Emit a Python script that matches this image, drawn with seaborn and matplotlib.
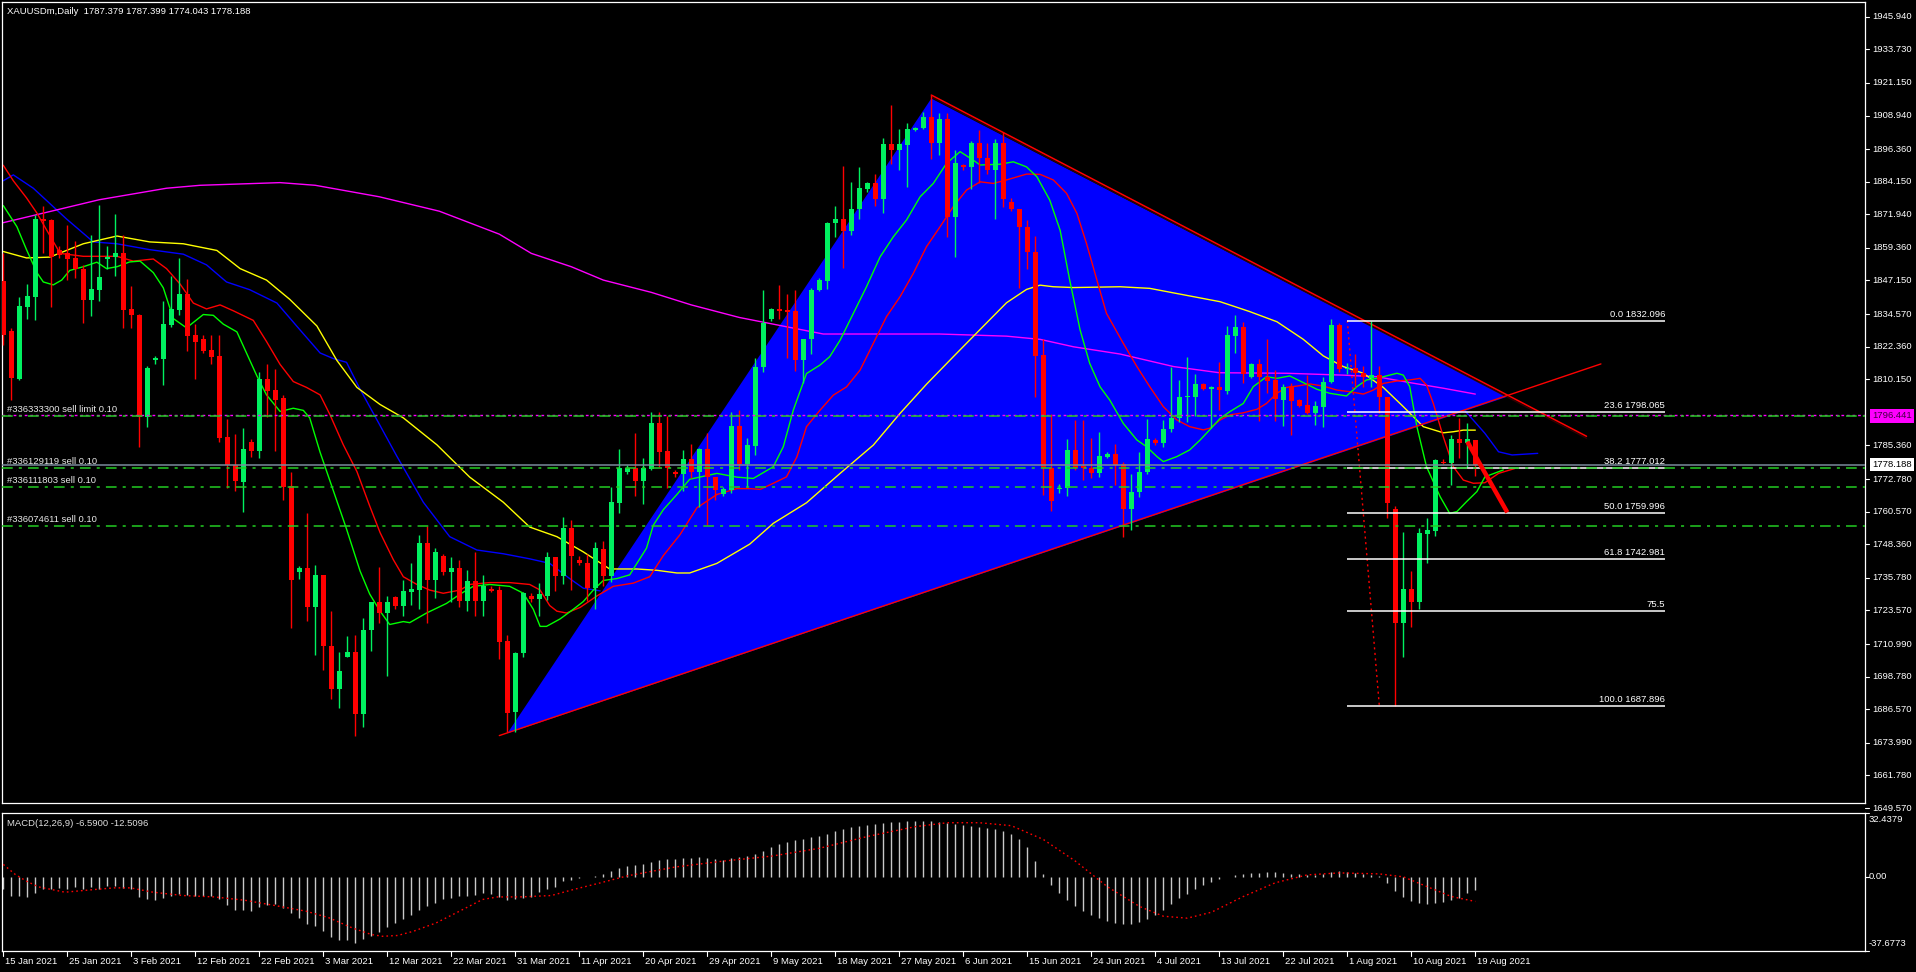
import numpy as np
import pandas as pd
import matplotlib
matplotlib.use("Agg")
import matplotlib.pyplot as plt
import matplotlib.transforms as mtransforms
import seaborn as sns

sns.set_theme(style="dark")
plt.rcParams['font.family'] = ['Liberation Sans', 'DejaVu Sans']

# ---------------- data ----------------
opens = [1847.0, 1828.2, 1810.4, 1837.2, 1841.0, 1870.2, 1869.8, 1858.4, 1857.3, 1855.6,
         1851.3, 1839.8, 1843.5, 1855.2, 1855.9, 1857.6, 1836.4, 1834.4, 1796.1, 1817.2,
         1817.9, 1830.4, 1836.1, 1842.1, 1826.6, 1825.2, 1821.0, 1818.9, 1788.5, 1778.2,
         1771.6, 1786.6, 1783.2, 1810.4, 1806.1, 1803.1, 1770.2, 1738.0, 1739.5, 1725.0,
         1736.9, 1710.4, 1694.2, 1706.1, 1707.9, 1684.6, 1716.1, 1726.9, 1722.6, 1728.6,
         1725.2, 1730.5, 1731.2, 1748.8, 1735.0, 1743.8, 1738.0, 1739.5, 1727.2, 1734.5,
         1727.2, 1731.5, 1731.2, 1712.1, 1685.6, 1707.5, 1729.0, 1728.0, 1729.0, 1743.4,
         1736.6, 1754.4, 1742.6, 1741.5, 1731.9, 1746.4, 1736.6, 1763.9, 1775.6, 1777.0,
         1772.0, 1776.6, 1793.8, 1783.2, 1775.6, 1774.5, 1780.2, 1775.3, 1784.2, 1773.5,
         1767.0, 1768.7, 1792.8, 1778.5, 1785.1, 1814.6, 1832.6, 1836.3, 1836.1, 1835.7,
         1817.3, 1825.1, 1843.6, 1847.1, 1868.8, 1870.0, 1865.8, 1874.1, 1881.3, 1883.5,
         1877.5, 1898.2, 1896.2, 1897.9, 1903.5, 1904.1, 1908.2, 1898.7, 1907.8, 1870.8,
         1890.4, 1889.5, 1898.7, 1893.2, 1888.7, 1898.5, 1876.6, 1873.8, 1867.3, 1857.9,
         1819.2, 1776.8, 1768.9, 1769.3, 1783.6, 1777.6, 1777.1, 1775.1, 1781.1, 1782.1,
         1778.4, 1761.4, 1768.0, 1775.5, 1787.4, 1786.2, 1791.4, 1795.5, 1803.4, 1803.6,
         1808.4, 1806.4, 1807.1, 1805.9, 1826.3, 1829.6, 1811.1, 1815.9, 1811.1, 1809.9,
         1802.4, 1807.6, 1802.4, 1800.5, 1797.6, 1799.9, 1809.2, 1830.5, 1813.9, 1814.2,
         1812.6, 1810.5, 1811.7, 1803.6, 1761.4, 1719.0, 1731.5, 1726.9, 1752.2, 1753.5,
         1779.3, 1778.7, 1787.6, 1786.2, 1787.379]
highs = [1857.3, 1829.4, 1840.8, 1845.8, 1871.6, 1875.2, 1870.2, 1859.9, 1868.1, 1861.9,
         1853.0, 1864.2, 1875.6, 1860.2, 1872.1, 1864.2, 1845.1, 1834.7, 1815.0, 1818.9,
         1839.4, 1849.0, 1855.6, 1847.6, 1830.8, 1826.9, 1826.9, 1826.9, 1795.2, 1789.6,
         1791.8, 1787.8, 1812.9, 1816.0, 1814.0, 1804.3, 1775.6, 1740.1, 1760.1, 1740.5,
         1736.9, 1723.3, 1707.9, 1714.0, 1714.3, 1720.9, 1726.9, 1739.8, 1729.0, 1729.0,
         1734.8, 1741.2, 1752.0, 1755.2, 1746.9, 1744.8, 1743.4, 1742.6, 1738.6, 1745.5,
         1736.9, 1732.6, 1732.6, 1714.3, 1707.9, 1730.5, 1730.0, 1733.7, 1745.5, 1743.4,
         1758.7, 1757.3, 1743.8, 1744.8, 1749.1, 1749.5, 1769.9, 1783.9, 1778.2, 1789.9,
         1780.6, 1797.8, 1797.8, 1796.4, 1776.3, 1783.5, 1785.9, 1784.5, 1789.9, 1773.5,
         1769.9, 1797.8, 1798.8, 1788.2, 1818.0, 1843.6, 1836.7, 1845.4, 1842.1, 1843.6,
         1825.4, 1844.2, 1847.9, 1869.1, 1875.0, 1890.0, 1884.1, 1889.5, 1884.1, 1887.2,
         1900.4, 1912.8, 1903.7, 1906.2, 1904.5, 1910.3, 1916.6, 1909.7, 1909.7, 1896.2,
         1890.7, 1899.5, 1903.5, 1898.7, 1900.0, 1902.9, 1877.9, 1873.8, 1869.8, 1863.8,
         1825.4, 1797.1, 1770.9, 1787.6, 1794.9, 1794.9, 1788.0, 1790.5, 1783.0, 1785.9,
         1779.3, 1774.7, 1783.0, 1795.1, 1788.0, 1794.9, 1814.9, 1809.9, 1818.4, 1812.1,
         1808.9, 1807.6, 1816.7, 1830.1, 1834.2, 1831.7, 1816.4, 1817.6, 1825.1, 1813.6,
         1808.4, 1808.6, 1802.6, 1811.7, 1802.1, 1810.9, 1832.6, 1831.3, 1816.1, 1819.6,
         1815.1, 1832.1, 1815.1, 1803.6, 1762.7, 1753.1, 1738.5, 1754.3, 1758.1, 1780.2,
         1780.2, 1789.3, 1795.5, 1793.6, 1787.399]
lows = [1822.9, 1802.5, 1810.0, 1832.9, 1832.4, 1857.6, 1837.2, 1855.6, 1847.3, 1848.0,
        1831.2, 1833.7, 1839.4, 1851.3, 1849.0, 1829.4, 1829.4, 1784.9, 1792.1, 1815.7,
        1807.9, 1829.8, 1834.1, 1820.8, 1810.4, 1820.0, 1816.0, 1786.8, 1769.6, 1768.4,
        1760.5, 1780.9, 1780.6, 1796.1, 1783.2, 1764.9, 1717.1, 1735.2, 1719.7, 1706.8,
        1701.4, 1690.3, 1687.0, 1706.1, 1676.7, 1679.9, 1708.2, 1719.0, 1698.9, 1724.0,
        1721.4, 1725.7, 1724.0, 1719.0, 1728.3, 1736.9, 1726.9, 1724.7, 1723.3, 1721.4,
        1721.4, 1730.5, 1705.4, 1677.9, 1677.9, 1706.1, 1726.9, 1721.4, 1727.6, 1730.9,
        1733.3, 1731.2, 1740.5, 1727.2, 1724.0, 1732.6, 1734.3, 1760.1, 1774.5, 1766.3,
        1763.4, 1776.3, 1777.3, 1769.6, 1773.5, 1768.4, 1773.0, 1762.4, 1755.5, 1764.9,
        1766.3, 1767.7, 1776.3, 1769.9, 1781.8, 1813.0, 1832.1, 1832.9, 1818.0, 1813.3,
        1808.6, 1819.6, 1843.3, 1843.8, 1863.3, 1852.0, 1864.2, 1870.0, 1880.4, 1875.0,
        1872.5, 1890.7, 1888.5, 1882.3, 1903.2, 1903.7, 1892.5, 1894.1, 1863.5, 1855.8,
        1888.7, 1881.3, 1883.5, 1887.2, 1870.0, 1874.5, 1873.3, 1844.2, 1851.3, 1803.4,
        1766.8, 1760.9, 1767.4, 1766.4, 1776.1, 1772.6, 1773.0, 1773.6, 1780.5, 1770.5,
        1750.9, 1753.7, 1765.9, 1774.7, 1785.5, 1784.7, 1790.5, 1794.3, 1794.3, 1796.4,
        1806.1, 1791.8, 1798.6, 1804.6, 1820.1, 1808.9, 1810.5, 1794.6, 1805.1, 1794.6,
        1792.7, 1789.3, 1799.9, 1797.1, 1793.0, 1792.4, 1808.9, 1813.0, 1812.1, 1807.1,
        1807.1, 1807.1, 1797.4, 1758.1, 1687.896, 1706.0, 1717.5, 1724.0, 1741.5, 1751.5,
        1778.4, 1770.6, 1780.5, 1777.4, 1774.043]
closes = [1826.9, 1810.7, 1837.5, 1841.2, 1870.2, 1869.3, 1855.9, 1856.6, 1855.2, 1851.3,
          1839.8, 1844.0, 1848.4, 1855.9, 1857.6, 1836.1, 1834.4, 1796.1, 1814.3, 1818.2,
          1830.8, 1836.5, 1842.1, 1826.5, 1824.0, 1820.9, 1818.6, 1788.2, 1778.2, 1771.9,
          1784.2, 1783.2, 1810.4, 1805.7, 1802.5, 1769.9, 1734.8, 1739.5, 1725.0, 1736.9,
          1710.4, 1694.2, 1700.8, 1707.9, 1684.6, 1716.1, 1726.6, 1722.6, 1726.9, 1725.4,
          1730.9, 1731.6, 1748.8, 1735.0, 1745.5, 1738.0, 1739.5, 1727.2, 1734.5, 1727.2,
          1732.6, 1730.9, 1711.8, 1685.3, 1707.5, 1730.0, 1728.0, 1729.7, 1743.4, 1736.6,
          1754.4, 1743.8, 1741.2, 1731.9, 1746.9, 1736.6, 1764.1, 1777.0, 1777.0, 1772.0,
          1777.0, 1793.8, 1782.8, 1777.0, 1774.5, 1780.2, 1775.3, 1784.2, 1773.5, 1768.7,
          1769.2, 1792.8, 1778.5, 1785.6, 1814.6, 1831.1, 1836.3, 1835.8, 1835.4, 1817.3,
          1825.1, 1843.6, 1847.3, 1868.8, 1870.0, 1865.8, 1874.1, 1881.6, 1883.5, 1877.5,
          1898.2, 1896.2, 1898.2, 1903.7, 1904.1, 1908.2, 1898.7, 1907.8, 1870.8, 1891.2,
          1889.5, 1898.7, 1893.2, 1888.7, 1898.5, 1877.5, 1873.8, 1867.3, 1857.9, 1818.8,
          1776.8, 1764.6, 1769.6, 1783.6, 1777.1, 1777.1, 1775.1, 1781.4, 1782.1, 1778.0,
          1761.4, 1768.0, 1775.5, 1787.7, 1786.2, 1791.4, 1795.5, 1803.6, 1803.9, 1808.4,
          1806.4, 1807.1, 1806.1, 1826.7, 1829.6, 1812.1, 1815.9, 1811.1, 1809.6, 1802.6,
          1807.4, 1802.1, 1800.1, 1797.6, 1800.1, 1809.2, 1830.5, 1813.9, 1814.2, 1812.4,
          1811.1, 1811.7, 1803.4, 1763.7, 1719.0, 1731.5, 1726.9, 1752.4, 1753.7, 1779.9,
          1778.7, 1787.6, 1786.2, 1787.6, 1778.188]

# moving averages (bar position, price)
ma_magenta = [(0, 1868.8), (12, 1877.4), (20.4, 1881.7), (24.6, 1882.8), (34.6, 1883.8), (39, 1882.8),
              (47, 1878.5), (54.5, 1873.1), (62, 1864.5), (66, 1857.3), (71, 1852.3), (75, 1847.3),
              (81, 1842.7), (86, 1838.0), (92, 1833.3), (102.5, 1827.1), (117, 1827.1), (125.4, 1826.3),
              (129.6, 1825.1), (133.8, 1822.3), (139.6, 1819.6), (146.3, 1814.9), (152, 1812.6),
              (160.4, 1812.4), (167.5, 1811.7), (171.7, 1811.1), (175.8, 1808.9), (180, 1806.8), (184, 1804.6)]
ma_yellow = [(0, 1858.0), (2.9, 1855.6), (5.8, 1855.9), (10, 1860.9), (14.2, 1863.8), (18.3, 1861.6),
             (22.5, 1860.9), (26.7, 1858.4), (29.6, 1851.6), (32.9, 1847.3), (35.8, 1840.1), (39.2, 1830.1),
             (41.7, 1817.2), (44.2, 1807.1), (47.1, 1800.7), (50, 1795.7), (54.2, 1785.6), (58.3, 1773.5),
             (62.5, 1764.1), (65.8, 1754.8), (69.2, 1751.2), (72.5, 1745.5), (75.8, 1739.1), (79.2, 1739.1),
             (81.7, 1738.6), (84.2, 1737.6), (85.8, 1737.6), (89.2, 1741.2), (93.3, 1748.4), (96.25, 1756.2),
             (100.4, 1763.9), (104.6, 1774.9), (108.75, 1785.5), (112.1, 1797.4), (115.4, 1808.3),
             (118.75, 1818.6), (122.1, 1828.8), (125.4, 1838.8), (127.9, 1843.8), (129.6, 1845.4),
             (131.25, 1844.8), (133.75, 1844.5), (139.6, 1844.8), (143.3, 1844.2), (148.75, 1841.1),
             (152.1, 1839.2), (155.8, 1835.5), (159.2, 1831.7), (162.5, 1825.1), (165, 1818.9),
             (167.5, 1814.9), (170, 1812.4), (172.5, 1807.1), (175, 1799.9), (177.5, 1792.4), (180, 1790.1),
             (181.25, 1790.5), (182.5, 1791.1), (184, 1791.1)]
jaw_blue_left = [(0, 1884.5), (1.25, 1886.7), (3.75, 1881.7), (7.9, 1870.2), (11.25, 1861.6), (14.2, 1860.9),
                 (18.3, 1858.7), (22.5, 1857.0), (25.4, 1853.0), (27.9, 1846.6), (30.8, 1843.7), (34.2, 1838.7),
                 (37.1, 1828.6), (39.6, 1820.0), (41.25, 1817.9), (42.9, 1816.5), (44.6, 1806.4), (47.1, 1792.8),
                 (49.2, 1781.3), (52.5, 1764.1), (55.8, 1751.2), (59.2, 1746.2), (62.5, 1744.8), (65.8, 1742.9),
                 (68.3, 1741.2), (70.8, 1735.5), (72.5, 1731.9), (74.6, 1730.9)]
jaw_blue_right = [(182, 1800.5), (183.2, 1796.7), (185.2, 1789.9), (186.9, 1783.0), (188.6, 1781.8), (191.8, 1782.4)]
teeth_red = [(0, 1890.3), (1.25, 1884.5), (2.9, 1878.1), (4.2, 1872.4), (7.1, 1857.3), (10, 1856.2),
             (14.2, 1856.2), (16.25, 1854.4), (18.75, 1855.2), (20.4, 1851.6), (22.1, 1845.8), (23.75, 1838.7),
             (25.4, 1836.5), (27.1, 1838.0), (28.75, 1835.8), (31.25, 1832.2), (32.9, 1824.3), (34.6, 1815.7),
             (36.25, 1809.3), (37.9, 1807.1), (39.6, 1804.3), (40.8, 1797.1), (42.5, 1785.6), (44.2, 1775.6),
             (45.8, 1762.7), (47.1, 1752.7), (48.75, 1742.6), (50, 1736.2), (51.7, 1733.3), (53.3, 1731.2),
             (55, 1730.0), (57.1, 1731.2), (58.3, 1733.3), (60.8, 1734.0), (63.3, 1734.0), (65.8, 1733.3),
             (67.1, 1731.2), (68.3, 1725.4), (69.2, 1723.3), (70.4, 1722.6), (72.1, 1724.7), (74.2, 1729.0),
             (76.25, 1732.6), (78.75, 1733.8), (80.8, 1736.2), (82.5, 1744.1), (84.6, 1752.0), (86.7, 1762.0),
             (89.2, 1767.0), (91.7, 1769.2), (93.3, 1769.2), (94.6, 1768.9), (96.25, 1771.2), (97.9, 1773.6),
             (99.2, 1781.1), (100.4, 1792.4), (102.1, 1798.6), (103.75, 1804.2), (105.4, 1807.3),
             (107.1, 1813.6), (108.75, 1823.6), (110.4, 1833.6), (112.1, 1841.1), (113.75, 1849.8),
             (115.4, 1859.8), (117.1, 1867.3), (118.75, 1874.8), (120.4, 1881.0), (122.1, 1884.1),
             (123.75, 1883.5), (125.4, 1884.8), (127.9, 1887.0), (129.6, 1886.9), (131.25, 1884.8),
             (132.9, 1879.8), (134.2, 1872.3), (135.4, 1861.0), (136.7, 1847.3), (137.9, 1834.8),
             (140, 1823.6), (141.7, 1814.9), (143.3, 1807.4), (145, 1799.9), (146.7, 1794.9), (148.3, 1792.4),
             (150, 1791.2), (150.8, 1791.8), (152.1, 1794.9), (153.3, 1796.8), (155, 1797.6), (156.7, 1798.9),
             (157.9, 1801.1), (159.2, 1804.9), (160.4, 1807.1), (161.7, 1807.6), (163.3, 1808.4), (165, 1807.6),
             (166.7, 1806.1), (168.3, 1805.5), (170, 1804.6), (171.25, 1806.1), (172.5, 1808.6), (174.2, 1809.5),
             (175.8, 1809.9), (177.1, 1810.5), (177.9, 1808.0), (178.75, 1801.1), (180, 1788.6),
             (181.25, 1777.4), (182.5, 1772.4), (183.75, 1771.2), (185.2, 1771.4), (186.9, 1774.9), (188.9, 1776.7)]
lips_green = [(0, 1875.2), (1.7, 1867.3), (2.9, 1858.7), (4.2, 1850.1), (5, 1846.6), (6.25, 1845.5),
              (7.3, 1847.3), (8.3, 1850.9), (10, 1852.3), (11.7, 1854.0), (12.9, 1851.6), (14.2, 1852.3),
              (15.8, 1854.1), (17.1, 1854.4), (18.75, 1850.1), (20, 1844.4), (21.25, 1832.9), (22.9, 1829.4),
              (25, 1834.4), (26.25, 1834.1), (27.5, 1830.8), (29.2, 1827.9), (30.4, 1820.0), (31.7, 1811.4),
              (32.9, 1804.3), (34.6, 1798.1), (36.25, 1799.3), (37.5, 1798.5), (38.3, 1795.7), (39.6, 1782.8),
              (41.25, 1768.4), (42.9, 1754.1), (44.6, 1738.3), (45.8, 1729.7), (47.1, 1723.3), (48.3, 1718.3),
              (50, 1719.4), (50.8, 1719.0), (52.9, 1722.6), (55.4, 1726.2), (57.1, 1729.7), (58.75, 1732.6),
              (60.8, 1733.3), (63.3, 1732.6), (65, 1730.0), (66.25, 1724.0), (67.1, 1717.6), (67.9, 1717.6),
              (69.6, 1720.4), (71.25, 1724.0), (72.5, 1726.9), (73.75, 1731.2), (75, 1734.8), (76.7, 1735.5),
              (78.3, 1736.9), (79.2, 1741.2), (80.4, 1746.9), (81.25, 1755.5), (82.5, 1761.3), (84.2, 1767.0),
              (85.8, 1772.7), (89.2, 1774.9), (91.7, 1773.5), (93.75, 1773.0), (96.25, 1777.4), (97.5, 1784.9),
              (98.75, 1798.6), (100.4, 1812.3), (102.1, 1815.5), (103.3, 1818.6), (104.6, 1824.8),
              (106.25, 1834.8), (107.9, 1844.8), (109.6, 1856.0), (111.25, 1863.5), (112.9, 1869.8),
              (114.6, 1878.5), (116.25, 1883.5), (117.9, 1891.0), (119.6, 1895.4), (121.25, 1892.2),
              (122.1, 1890.4), (124.6, 1890.7), (126.25, 1891.6), (127.9, 1889.7), (129.2, 1886.0),
              (130.8, 1877.3), (132.1, 1866.0), (133.3, 1847.3), (134.6, 1828.6), (135.8, 1816.1),
              (137.1, 1807.3), (138.3, 1802.4), (140, 1793.6), (141.7, 1787.4), (142.9, 1784.9), (144.2, 1781.2),
              (145, 1779.3), (146.7, 1781.2), (148.3, 1783.7), (149.6, 1787.4), (150.8, 1791.2), (152.1, 1795.5),
              (153.3, 1798.0), (155, 1801.1), (156.25, 1807.4), (157.9, 1811.1), (159.2, 1810.5), (160.8, 1811.4),
              (162.5, 1808.9), (164.2, 1806.4), (165.8, 1804.9), (167.9, 1803.9), (169.2, 1807.4), (170.4, 1809.9),
              (171.7, 1810.5), (172.9, 1811.4), (174.2, 1812.4), (175, 1811.7), (175.8, 1807.4), (176.7, 1792.4),
              (177.9, 1777.4), (179.6, 1766.2), (180.8, 1759.9), (181.7, 1760.6), (182.9, 1764.3), (184.2, 1768.1),
              (185.2, 1773.6), (186.9, 1775.5), (187.5, 1776.2)]

macd_main = [-6.1, -9.8, -9.8, -10.3, -8.1, -6.1, -6.1, -5.6, -6.1, -5.1,
             -6.1, -5.1, -6.1, -4.4, -4.4, -5.6, -6.4, -10.2, -11.2, -11.9,
             -11.0, -9.8, -8.5, -9.0, -9.5, -9.8, -9.8, -11.2, -14.1, -16.6,
             -16.6, -17.4, -15.2, -14.1, -13.6, -15.7, -18.6, -20.8, -24.2, -25.1,
             -27.6, -30.5, -32.2, -32.2, -33.5, -31.8, -30.1, -28.1, -25.4, -23.7,
             -21.3, -19.6, -16.6, -14.9, -13.2, -11.5, -10.8, -9.8, -9.8, -9.0,
             -8.1, -8.5, -10.2, -11.9, -11.5, -10.7, -10.2, -7.8, -6.1, -5.1,
             -2.2, -1.4, -0.5, -0.2, 0.5, 1.5, 3, 4.5, 5.5, 6,
             6.5, 7.5, 8.5, 9, 9, 9.5, 9.5, 10, 9.5, 9,
             8.5, 9.5, 10, 10.5, 11.5, 13, 15, 16.5, 17.5, 18.5,
             19, 20, 21, 22, 23.5, 24.5, 25.5, 26, 26.5, 27,
             27.5, 28, 28, 28.5, 28.5, 28.5, 28.5, 28, 27.5, 27,
             26.5, 26, 25.5, 25, 24.5, 23.5, 22, 19, 15, 8,
             1.5, -4, -8, -12, -15, -17.5, -19.5, -21, -22.5, -23.5,
             -24, -24, -23, -21.5, -19.5, -17, -14, -11, -8.5, -6,
             -4, -2.5, -1, 0, 1, 1.5, 2, 2, 2.5, 2.5,
             2, 1.5, 1.5, 1, 1, 1.5, 2.5, 3, 2.5, 2,
             1.5, 1, 0.5, -3, -7, -10, -12.5, -13.5, -14, -13.5,
             -13, -12, -11, -8, -6.59]
macd_signal = [(0, 6.3), (1.5, 1.2), (2.9, -2.2), (4.4, -5.1), (7.7, -7.8), (11.5, -6.4), (13.9, -5.6),
               (15.9, -5.6), (18.7, -7.8), (22.5, -9.5), (26.4, -10.2), (30.2, -11.9), (34.0, -14.6),
               (37.9, -17.5), (40.7, -20.8), (43.6, -25.9), (46.0, -29.3), (47.4, -30.2), (49.3, -29.8),
               (51.3, -27.6), (54.1, -23.4), (57.0, -17.5), (59.9, -11.5), (61.8, -10.2), (64.6, -10.2),
               (68.5, -9.5), (71.3, -6.4), (74.6, -3.1), (78, 0.5), (84, 5), (90, 8), (96, 10.5), (102, 14.5),
               (108, 20.5), (114, 25.5), (118, 27.5), (122, 27.5), (126, 26), (130, 19), (134, 8), (138, -5),
               (142, -15), (145, -20), (148, -21), (151, -18), (155, -10), (159, -3), (163, 1), (167, 2),
               (172, 1.5), (175, 0), (178, -5), (181, -10), (184, -12.51)]

date_labels = ['15 Jan 2021', '25 Jan 2021', '3 Feb 2021', '12 Feb 2021', '22 Feb 2021', '3 Mar 2021',
               '12 Mar 2021', '22 Mar 2021', '31 Mar 2021', '11 Apr 2021', '20 Apr 2021', '29 Apr 2021',
               '9 May 2021', '18 May 2021', '27 May 2021', '6 Jun 2021', '15 Jun 2021', '24 Jun 2021',
               '4 Jul 2021', '13 Jul 2021', '22 Jul 2021', '1 Aug 2021', '10 Aug 2021', '19 Aug 2021']
price_ticks = [1945.940, 1933.730, 1921.150, 1908.940, 1896.360, 1884.150, 1871.940, 1859.360,
               1847.150, 1834.570, 1822.360, 1810.150, 1785.360, 1772.780, 1760.570, 1748.360,
               1735.780, 1723.570, 1710.990, 1698.780, 1686.570, 1673.990, 1661.780, 1649.570]
macd_ticks = [32.4379, 0.0, -37.6773]

triangle_x = [63, 116, 188]
triangle_y = [1677.5, 1915.3, 1803.6]
trend_up = [(62, 1676.7), (199.7, 1815.9)]
trend_down = [(116, 1916.6), (197.9, 1788.8)]
arrow_line = [(183, 1786.8), (188, 1760.3)]
fib_anchor = [(168, 1832.096), (172, 1687.896)]
fib_span = (168, 207.7)
fib_prices = [1832.096, 1798.065, 1777.012, 1759.996, 1742.981, 1723.2, 1687.896]
fib_texts = ['0.0 1832.096', '23.6 1798.065', '38.2 1777.012', '50.0 1759.996', '61.8 1742.981', '75.5',
             '100.0 1687.896']
order_prices = [1796.441, 1777.1, 1769.9, 1755.2]
order_texts = ['#336333300 sell limit 0.10', '#336129119 sell 0.10', '#336111803 sell 0.10',
               '#336074611 sell 0.10']
limit_line = 1796.7
bid_price = 1778.188
title_text = 'XAUUSDm,Daily  1787.379 1787.399 1774.043 1778.188'
macd_text = 'MACD(12,26,9) -6.5900 -12.5096'

# trading calendar (Sun-Fri bars, Good Friday closed)
days = pd.date_range('2021-01-15', '2021-08-19')
days = [d for d in days if d.weekday() != 5 and d != pd.Timestamp('2021-04-02')]
bar_of = {f"{d.day} {d.strftime('%b %Y')}": i for i, d in enumerate(days)}

# ---------------- figure ----------------
W, H = 1916, 972
fig = plt.figure(figsize=(W / 100, H / 100), dpi=100)
fig.patch.set_facecolor('black')


def rect(l, t, r, b):
    return [l / W, 1 - b / H, (r - l) / W, (b - t) / H]


ax = fig.add_axes(rect(2, 2, 1865, 803))
axm = fig.add_axes(rect(2, 813, 1865, 951))
for a in (ax, axm):
    a.set_facecolor('black')
    a.grid(False)
    for s in a.spines.values():
        s.set_visible(True)
        s.set_color('white')
        s.set_linewidth(0.9)
    a.set_xticks([])
    a.set_yticks([])
    a.set_xlim(-0.1625, 232.71)
ax.set_ylim(1651.45, 1951.45)
axm.set_ylim(-37.6773, 32.4379)

FS = 6.8

# triangle and trend objects
ax.fill(triangle_x, triangle_y, color='#0000FF', lw=0, zorder=1)
edge_tr = mtransforms.offset_copy(ax.transData, fig=fig, x=0, y=-2, units='dots')
ax.plot(*zip(*trend_down), color='#300000', lw=1.0, transform=edge_tr, zorder=2.55)
ax.plot(*zip(*trend_up), color='#FF0000', lw=1.0, zorder=2.6)
ax.plot(*zip(*trend_down), color='#FF0000', lw=1.1, zorder=2.6)


def line(pts, color, z):
    xs, ys = zip(*pts)
    sns.lineplot(x=list(xs), y=list(ys), ax=ax, color=color, lw=1.0, sort=False,
                 estimator=None, legend=False, zorder=z)


line(jaw_blue_left, '#0000FF', 0.8)
line(jaw_blue_right, '#0000FF', 0.8)
line(ma_magenta, '#FF00FF', 2)
line(ma_yellow, '#FFFF00', 2)
line(teeth_red, '#FF0000', 2.1)
line(lips_green, '#00FF00', 2.2)

# candles
o = np.array(opens); h = np.array(highs); l = np.array(lows); c = np.array(closes)
idx = np.arange(len(c))
up = c >= o
bull, bear = '#00F060', '#FF0000'
for mask, col in ((up, bull), (~up, bear)):
    ax.vlines(idx[mask], l[mask], h[mask], color=col, lw=1.0, zorder=2.9)
    body_lo = np.minimum(o, c)[mask]
    body_h = np.maximum(np.abs(c - o)[mask], 0.45)
    ax.bar(idx[mask], body_h, bottom=body_lo, width=0.62, color=col, linewidth=0, zorder=3)

# fibonacci
ax.plot(*zip(*fib_anchor), color='#FF0000', lw=1.0, ls=(0, (1.5, 2.5)), zorder=3.2)
ax.hlines(fib_prices, fib_span[0], fib_span[1], color='white', lw=1.1, zorder=3.3)
tr_up = mtransforms.offset_copy(ax.transData, fig=fig, x=0, y=2, units='dots')
for p, t in zip(fib_prices, fib_texts):
    ax.text(fib_span[1], p, t, transform=tr_up, color='white', fontsize=FS, ha='right', va='bottom', zorder=4)

# red projected move
ax.plot(*zip(*arrow_line), color='#FF0000', lw=3.2, solid_capstyle='butt', zorder=3.5)

# order lines
bt = mtransforms.blended_transform_factory(fig.transFigure, ax.transData)
bt_up = mtransforms.offset_copy(bt, fig=fig, x=0, y=2, units='dots')
ax.axhline(limit_line, color='#FF00FF', lw=1.0, ls=(0, (2, 2)), zorder=3.4)
for p, t in zip(order_prices, order_texts):
    ax.axhline(p, color='#22CC22', lw=1.1, ls=(0, (7, 4, 2, 4)), zorder=3.4)
    ax.text(7 / W, p, t, transform=bt_up, color='#E8E8E8', fontsize=FS, ha='left', va='bottom', zorder=4)
ax.axhline(bid_price, color='#7A8A9A', lw=1.1, zorder=3.45)

# right price axis
for p in price_ticks:
    ax.plot([1865 / W, 1869 / W], [p, p], transform=bt, color='white', lw=0.8, clip_on=False)
    ax.text(1872 / W, p, f'{p:.3f}', transform=bt, color='white', fontsize=FS, ha='left', va='center',
            clip_on=False)
ax.text(1872 / W, order_prices[0], f'{order_prices[0]:.3f}', transform=bt, color='#400040', fontsize=FS,
        ha='left', va='center', clip_on=False,
        bbox=dict(facecolor='#FF00FF', edgecolor='none', boxstyle='square,pad=0.25'))
ax.text(1872 / W, bid_price, f'{bid_price:.3f}', transform=bt, color='black', fontsize=FS,
        ha='left', va='center', clip_on=False,
        bbox=dict(facecolor='white', edgecolor='none', boxstyle='square,pad=0.25'))

# MACD
axm.vlines(idx, 0, macd_main, color='#C8C8C8', lw=1.0, zorder=2)
sx, sy = zip(*macd_signal)
sns.lineplot(x=list(sx), y=list(sy), ax=axm, color='#FF0000', lw=1.0, sort=False, estimator=None,
             legend=False, zorder=3)
axm.lines[-1].set_linestyle((0, (1.2, 2.2)))
bm = mtransforms.blended_transform_factory(fig.transFigure, axm.transData)
macd_tick_style = [('top', -2), ('center', 0), ('bottom', 3)]
for v, (va, dy) in zip(macd_ticks, macd_tick_style):
    axm.plot([1865 / W, 1869 / W], [v, v], transform=bm, color='white', lw=0.8, clip_on=False)
    lab = f'{v:.4f}' if v != 0 else '0.00'
    axm.text(1869 / W, v, lab, transform=mtransforms.offset_copy(bm, fig=fig, x=0, y=dy, units='dots'),
             color='white', fontsize=FS, ha='left', va=va, clip_on=False)

# date axis
dt = mtransforms.blended_transform_factory(axm.transData, fig.transFigure)
for lab in date_labels:
    b = bar_of[lab]
    axm.plot([b, b], [1 - 951 / H, 1 - 956 / H], transform=dt, color='white', lw=0.8, clip_on=False)
    axm.text(b, 1 - 961 / H, lab, transform=mtransforms.offset_copy(dt, fig=fig, x=2, y=0, units='dots'),
             color='white', fontsize=FS, ha='left', va='center', clip_on=False)

fig.text(7 / W, 1 - 11 / H, title_text, color='white', fontsize=FS, ha='left', va='center')
fig.text(7 / W, 1 - 823 / H, macd_text, color='#E0E0E0', fontsize=FS, ha='left', va='center')

fig.savefig('out.png', dpi=100, facecolor='black')
